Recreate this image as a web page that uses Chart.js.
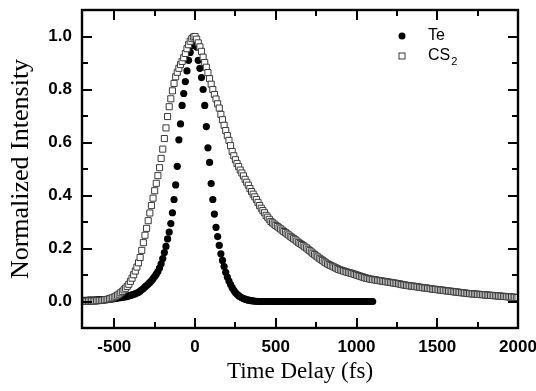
<!DOCTYPE html>
<html>
<head>
<meta charset="utf-8">
<script src="https://cdn.jsdelivr.net/npm/chart.js@4.4.1/dist/chart.umd.min.js"></script>
<style>
  html, body { margin: 0; padding: 0; background: #fff; }
  #wrap { width: 536px; height: 391px; }
</style>
</head>
<body>
<div id="wrap"><canvas id="chart" width="536" height="391"></canvas></div>
<script>
// time grid (fs): both series sampled every 10 fs starting at -700
const timeStep = 10;
const teStart = -700;
const cs2Start = -700;

// Te, filled circles, -700 .. 1100 fs
const teValues = [
  0.004, 0.004, 0.004, 0.004, 0.005, 0.005, 0.005, 0.005, 0.005, 0.006,
  0.006, 0.006, 0.007, 0.007, 0.007, 0.008, 0.008, 0.009, 0.009, 0.010,
  0.011, 0.012, 0.013, 0.014, 0.015, 0.016, 0.017, 0.018, 0.019, 0.021,
  0.023, 0.025, 0.027, 0.029, 0.032, 0.035, 0.039, 0.044, 0.049, 0.055,
  0.060, 0.066, 0.072, 0.078, 0.086, 0.094, 0.103, 0.113, 0.126, 0.142,
  0.162, 0.185, 0.208, 0.236, 0.262, 0.294, 0.335, 0.385, 0.440, 0.510,
  0.610, 0.670, 0.740, 0.785, 0.830, 0.870, 0.910, 0.940, 0.965, 0.985,
  1.000, 0.960, 0.910, 0.880, 0.845, 0.800, 0.740, 0.660, 0.580, 0.525,
  0.445, 0.385, 0.330, 0.280, 0.245, 0.212, 0.180, 0.155, 0.132, 0.110,
  0.092, 0.077, 0.064, 0.052, 0.042, 0.034, 0.027, 0.022, 0.018, 0.014,
  0.011, 0.009, 0.007, 0.005, 0.004, 0.003, 0.002, 0.001, 0.001, 0.000,
  0, 0, 0, 0, 0, 0, 0, 0, 0, 0,
  0, 0, 0, 0, 0, 0, 0, 0, 0, 0,
  0, 0, 0, 0, 0, 0, 0, 0, 0, 0,
  0, 0, 0, 0, 0, 0, 0, 0, 0, 0,
  0, 0, 0, 0, 0, 0, 0, 0, 0, 0,
  0, 0, 0, 0, 0, 0, 0, 0, 0, 0,
  0, 0, 0, 0, 0, 0, 0, 0, 0, 0,
  0
];

// CS2, open squares, -700 .. 2000 fs
const cs2Values = [
  0.001, 0.001, 0.001, 0.001, 0.002, 0.002, 0.002, 0.002, 0.002, 0.003,
  0.003, 0.004, 0.004, 0.005, 0.006, 0.007, 0.008, 0.010, 0.012, 0.014,
  0.017, 0.020, 0.024, 0.028, 0.033, 0.038, 0.044, 0.050, 0.057, 0.065,
  0.076, 0.088, 0.101, 0.115, 0.130, 0.146, 0.166, 0.193, 0.222, 0.250,
  0.276, 0.305, 0.334, 0.362, 0.390, 0.418, 0.446, 0.475, 0.505, 0.540,
  0.575, 0.615, 0.655, 0.698, 0.735, 0.765, 0.795, 0.823, 0.848, 0.865,
  0.880, 0.894, 0.906, 0.920, 0.936, 0.954, 0.969, 0.982, 0.992, 0.998,
  1.000, 0.990, 0.976, 0.961, 0.944, 0.922, 0.902, 0.884, 0.864, 0.841,
  0.820, 0.800, 0.781, 0.764, 0.746, 0.730, 0.706, 0.686, 0.665, 0.645,
  0.626, 0.608, 0.588, 0.566, 0.550, 0.535, 0.521, 0.509, 0.496, 0.485,
  0.474, 0.461, 0.450, 0.439, 0.426, 0.415, 0.405, 0.395, 0.385, 0.374,
  0.362, 0.352, 0.343, 0.335, 0.325, 0.318, 0.310, 0.302, 0.297, 0.292,
  0.287, 0.283, 0.278, 0.274, 0.269, 0.264, 0.260, 0.255, 0.251, 0.246,
  0.242, 0.237, 0.233, 0.228, 0.223, 0.219, 0.215, 0.211, 0.206, 0.202,
  0.197, 0.192, 0.187, 0.182, 0.177, 0.172, 0.168, 0.163, 0.159, 0.155,
  0.150, 0.146, 0.142, 0.139, 0.136, 0.133, 0.130, 0.127, 0.124, 0.121,
  0.119, 0.117, 0.115, 0.113, 0.111, 0.109, 0.108, 0.106, 0.104, 0.102,
  0.100, 0.098, 0.096, 0.094, 0.092, 0.090, 0.088, 0.087, 0.085, 0.084,
  0.083, 0.082, 0.081, 0.080, 0.079, 0.078, 0.077, 0.076, 0.075, 0.074,
  0.073, 0.072, 0.071, 0.070, 0.069, 0.068, 0.067, 0.066, 0.064, 0.063,
  0.062, 0.061, 0.060, 0.059, 0.058, 0.058, 0.057, 0.056, 0.055, 0.054,
  0.053, 0.052, 0.051, 0.051, 0.050, 0.049, 0.048, 0.047, 0.046, 0.046,
  0.045, 0.044, 0.043, 0.043, 0.042, 0.041, 0.040, 0.039, 0.039, 0.038,
  0.037, 0.036, 0.036, 0.035, 0.034, 0.033, 0.033, 0.032, 0.031, 0.030,
  0.030, 0.029, 0.029, 0.028, 0.028, 0.027, 0.027, 0.026, 0.026, 0.025,
  0.025, 0.024, 0.024, 0.023, 0.023, 0.022, 0.022, 0.021, 0.021, 0.020,
  0.020, 0.019, 0.019, 0.018, 0.018, 0.017, 0.017, 0.016, 0.016, 0.015,
  0.015
];

const xTicks = [-500, 0, 500, 1000, 1500, 2000];
const xMinor = [-250, 250, 750, 1250, 1750];
const yTicks = [0.0, 0.2, 0.4, 0.6, 0.8, 1.0];
const yMinor = [0.1, 0.3, 0.5, 0.7, 0.9];

const toPoints = (start, vals) => vals.map((v, i) => ({ x: start + i * timeStep, y: v }));

// box frame + inward ticks on all four sides
const frameTicks = {
  id: 'frameTicks',
  afterDraw(chart) {
    const ctx = chart.ctx;
    const a = chart.chartArea;
    const xs = chart.scales.x;
    const ys = chart.scales.y;
    ctx.save();
    ctx.strokeStyle = '#000';
    ctx.lineWidth = 2;
    const seg = (x1, y1, x2, y2) => {
      ctx.beginPath();
      ctx.moveTo(x1, y1);
      ctx.lineTo(x2, y2);
      ctx.stroke();
    };
    const xt = (v, len) => {
      const px = Math.round(xs.getPixelForValue(v));
      seg(px, a.bottom, px, a.bottom - len);
      seg(px, a.top, px, a.top + len);
    };
    const yt = (v, len) => {
      const py = Math.round(ys.getPixelForValue(v));
      seg(a.left, py, a.left + len, py);
      seg(a.right, py, a.right - len, py);
    };
    xTicks.forEach(v => xt(v, 10));
    xMinor.forEach(v => xt(v, 6));
    yTicks.forEach(v => yt(v, 10));
    yMinor.forEach(v => yt(v, 6));
    ctx.lineWidth = 2.4;
    ctx.strokeRect(a.left, a.top, a.right - a.left, a.bottom - a.top);
    ctx.restore();
  }
};

// legend inside the plot, top right
const insideLegend = {
  id: 'insideLegend',
  afterDraw(chart) {
    const { ctx, chartArea: a } = chart;
    const te = chart.data.datasets[0];
    const cs = chart.data.datasets[1];
    const mx = a.left + 320, tx = a.left + 346;
    const y1 = a.top + 26, y2 = a.top + 46;
    ctx.save();
    ctx.fillStyle = te.backgroundColor;
    ctx.beginPath();
    ctx.arc(mx, y1, 3.5, 0, Math.PI * 2);
    ctx.fill();
    ctx.fillStyle = '#fff';
    ctx.strokeStyle = cs.borderColor;
    ctx.lineWidth = 1;
    ctx.fillRect(mx - 3, y2 - 3, 6, 6);
    ctx.strokeRect(mx - 3, y2 - 3, 6, 6);
    ctx.fillStyle = '#000';
    ctx.textBaseline = 'middle';
    ctx.font = '16px "Liberation Sans", Arial, sans-serif';
    ctx.fillText('Te', tx, y1);
    ctx.fillText('CS', tx, y2);
    const w = ctx.measureText('CS').width;
    ctx.font = '11px "Liberation Sans", Arial, sans-serif';
    ctx.fillText('2', tx + w + 1, y2 + 6);
    ctx.restore();
  }
};

const tickFont = { family: '"Liberation Sans", Arial, sans-serif', size: 17, weight: 'bold' };

new Chart(document.getElementById('chart'), {
  type: 'scatter',
  data: {
    datasets: [
      {
        label: 'Te',
        data: toPoints(teStart, teValues),
        pointStyle: 'circle',
        pointRadius: 3.6,
        borderWidth: 0,
        backgroundColor: '#000',
        borderColor: '#000',
        order: 2
      },
      {
        label: 'CS2',
        data: toPoints(cs2Start, cs2Values),
        pointStyle: 'rect',
        pointRadius: 4.3,
        borderWidth: 1,
        backgroundColor: '#fff',
        borderColor: '#3a3a3a',
        order: 1
      }
    ]
  },
  options: {
    responsive: false,
    animation: false,
    devicePixelRatio: 1,
    clip: 0,
    layout: { padding: { left: 0, right: 18, top: 10, bottom: 0 } },
    plugins: {
      legend: { display: false },
      tooltip: { enabled: false }
    },
    scales: {
      x: {
        type: 'linear',
        min: -700,
        max: 2000,
        grid: { display: false, drawTicks: false },
        border: { display: false },
        ticks: { font: tickFont, color: '#000', padding: 9, maxRotation: 0, autoSkip: false, callback: v => String(v) },
        afterBuildTicks: s => { s.ticks = xTicks.map(v => ({ value: v })); },
        afterFit: s => { s.height = 63; s.paddingLeft = 0; s.paddingRight = 0; },
        title: {
          display: true,
          text: 'Time Delay (fs)',
          color: '#000',
          font: { family: '"Liberation Serif", "Times New Roman", serif', size: 23 },
          padding: { top: 0, bottom: 5 }
        }
      },
      y: {
        type: 'linear',
        min: -0.1,
        max: 1.1,
        grid: { display: false, drawTicks: false },
        border: { display: false },
        ticks: { font: tickFont, color: '#000', padding: 10, callback: v => v.toFixed(1) },
        afterBuildTicks: s => { s.ticks = yTicks.map(v => ({ value: v })); },
        afterFit: s => { s.width = 82; s.paddingTop = 0; s.paddingBottom = 0; },
        title: {
          display: true,
          text: 'Normalized Intensity',
          color: '#000',
          font: { family: '"Liberation Serif", "Times New Roman", serif', size: 26 },
          padding: { top: 6, bottom: 0 }
        }
      }
    }
  },
  plugins: [frameTicks, insideLegend]
});
</script>
</body>
</html>
